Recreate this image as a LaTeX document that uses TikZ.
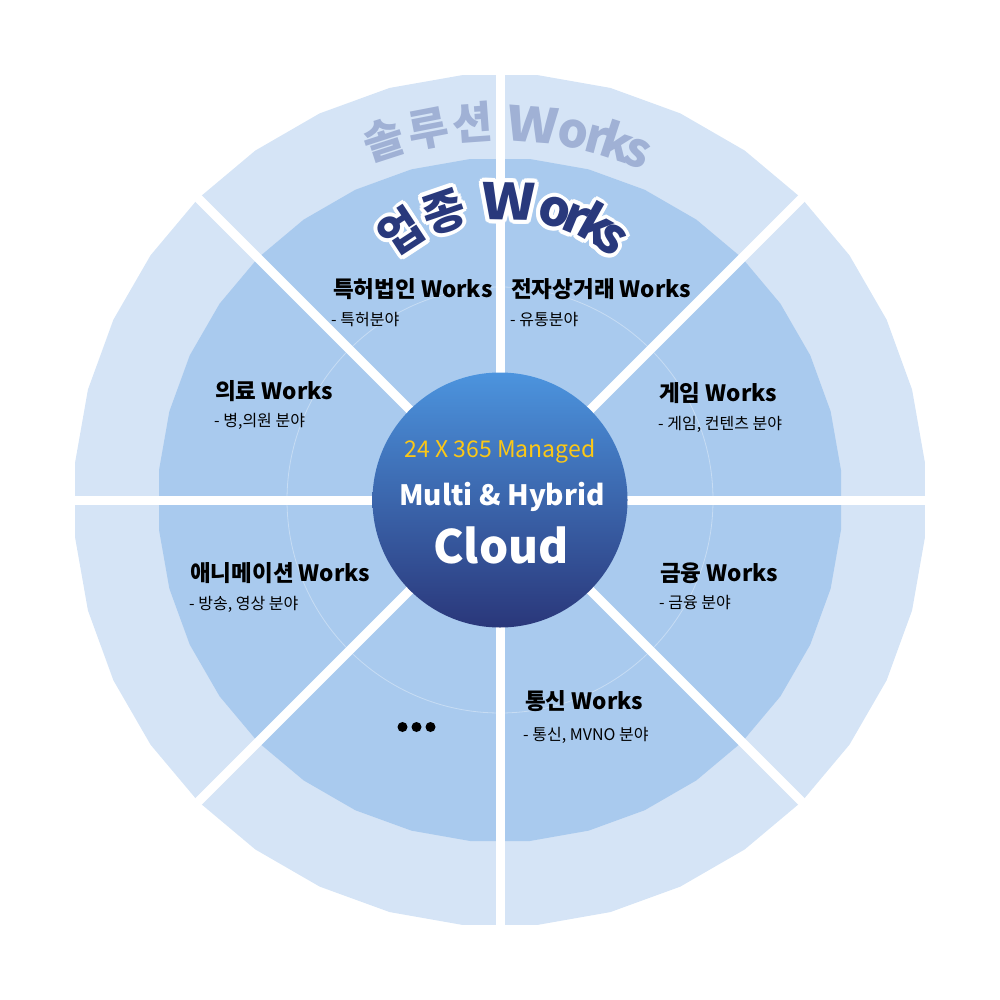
\documentclass[tikz,border=0pt]{standalone}
\usepackage{fontspec}
\setmainfont{Noto Sans CJK KR}
\definecolor{outerc}{RGB}{213,228,246}
\definecolor{midc}{RGB}{169,202,238}
\definecolor{ctop}{RGB}{76,148,222}
\definecolor{cbot}{RGB}{42,55,122}
\definecolor{navy}{RGB}{41,57,124}
\definecolor{solc}{RGB}{160,177,213}
\definecolor{goldc}{RGB}{252,200,22}
\tikzset{
  title/.style={font=\fontsize{22.5}{27}\selectfont\bfseries, anchor=base west, inner sep=0pt, text=black},
  sub/.style={font=\fontsize{16}{19}\selectfont, anchor=base west, inner sep=0pt, text=black},
  gap/.style={white, line width=9pt},
  dotc/.style={circle, fill=black, inner sep=0pt, minimum size=10pt},
  solh/.style={font=\fontsize{44}{44}\selectfont\bfseries, text=solc, inner sep=0pt},
  soll/.style={font=\fontsize{48}{48}\selectfont\bfseries, text=solc, inner sep=0pt},
  solw/.style={soll, xscale=1.15},
  uph/.style={font=\fontsize{46}{46}\selectfont\bfseries, inner sep=0pt},
  upl/.style={font=\fontsize{50}{50}\selectfont\bfseries, inner sep=0pt},
  upw/.style={upl, xscale=1.15},
}
% name, cx, cy, r, angle, style, text
\newcommand\archr[7]{%
  \node[#6, rotate=-#5, anchor=base] (#1) at ({#2+#4*sin(#5)},{#3-#4*cos(#5)}) {#7};}
% white outline of a char, drawn as offset copies: name, cx, cy, r, angle, style, text
\newcommand\outchr[7]{%
  \foreach \k in {0,22.5,...,337.5} {%
    \node[#6, text=white, rotate=-#5, anchor=base] (#1-\k) at ({#2+#4*sin(#5)+4*cos(\k)},{#3-#4*cos(#5)+4*sin(\k)}) {#7};}}
\begin{document}
\begin{tikzpicture}[x=1pt, y=-1pt]
\useasboundingbox (0,0) rectangle (1000,1000);
\coordinate (c) at (500,500);
% rings
\fill[outerc] plot[samples=37, domain=5:365] ({500+426.6*cos(\x)},{500+426.6*sin(\x)}) -- cycle;
\fill[midc] plot[samples=37, domain=5:365] ({500+342.3*cos(\x)},{500+342.3*sin(\x)}) -- cycle;
\draw[white, opacity=0.35, line width=0.8pt] (c) circle (213);
% gaps
\foreach \a in {0,45,...,315} \draw[gap] (c) -- ({500+440*cos(\a)},{500+440*sin(\a)});
% centre
\node[circle, inner sep=0pt, minimum size=255pt, top color=ctop, bottom color=cbot] (core) at (c) {};
\node[font=\fontsize{23}{23}\selectfont, text=goldc, anchor=base, inner sep=0pt] (m1) at (500,457) {24 X 365 Managed};
\node[font=\fontsize{28}{30}\selectfont\bfseries, text=white, anchor=base, inner sep=0pt] (m2) at (502,505) {Multi \& Hybrid};
\node[font=\fontsize{46}{46}\selectfont\bfseries, text=white, anchor=base, inner sep=0pt] (m3) at (501,563) {Cloud};
% sector labels
\node[title] (t1) at (333,297) {특허법인 Works};
\node[sub] (s1) at (331,325) {- 특허분야};
\node[title] (t2) at (511,297) {전자상거래 Works};
\node[sub] (s2) at (510,325) {- 유통분야};
\node[title] (t3) at (215,399) {의료 Works};
\node[sub] (s3) at (214,426) {- 병,의원 분야};
\node[title] (t4) at (659,401) {게임 Works};
\node[sub] (s4) at (658,429) {- 게임, 컨텐츠 분야};
\node[title] (t5) at (190,581) {애니메이션 Works};
\node[sub] (s5) at (189,609) {- 방송, 영상 분야};
\node[title] (t6) at (660,581) {금융 Works};
\node[sub] (s6) at (659,608) {- 금융 분야};
\node[title] (t7) at (525,709) {통신 Works};
\node[sub] (s7) at (523,740) {- 통신, MVNO 분야};
\node[dotc] (d1) at (402.5,727) {};
\node[dotc] (d2) at (416.5,727) {};
\node[dotc] (d3) at (430.5,727) {};
% 솔루션 Works
\archr{a1}{500}{500}{362}{-17.9}{solh}{솔}
\archr{a2}{500}{500}{362}{-10.9}{solh}{루}
\archr{a3}{500}{500}{362}{-4.1}{solh}{션}
\archr{a4}{500}{500}{359}{5.0}{solw}{W}
\archr{a5}{500}{500}{359}{11.3}{soll}{o}
\archr{a6}{500}{500}{359}{15.0}{soll}{r}
\archr{a7}{500}{500}{359}{18.2}{soll}{k}
\archr{a8}{500}{500}{359}{21.5}{soll}{s}
% 업종 Works: white outlines first
\outchr{o1}{505}{390}{172}{-33.3}{uph}{업}
\outchr{o2}{505}{390}{172}{-18.9}{uph}{종}
\outchr{o3}{505}{390}{170}{1.2}{upw}{W}
\outchr{o4}{505}{390}{170}{15.6}{upl}{o}
\outchr{o5}{505}{390}{170}{22.5}{upl}{r}
\outchr{o6}{505}{390}{170}{29.2}{upl}{k}
\outchr{o7}{505}{390}{170}{35}{upl}{s}
% then the navy letters
\archr{b1}{505}{390}{172}{-33.3}{uph, text=navy}{업}
\archr{b2}{505}{390}{172}{-18.9}{uph, text=navy}{종}
\archr{b3}{505}{390}{170}{1.2}{upw, text=navy}{W}
\archr{b4}{505}{390}{170}{15.6}{upl, text=navy}{o}
\archr{b5}{505}{390}{170}{22.5}{upl, text=navy}{r}
\archr{b6}{505}{390}{170}{29.2}{upl, text=navy}{k}
\archr{b7}{505}{390}{170}{35}{upl, text=navy}{s}
\end{tikzpicture}
\end{document}
